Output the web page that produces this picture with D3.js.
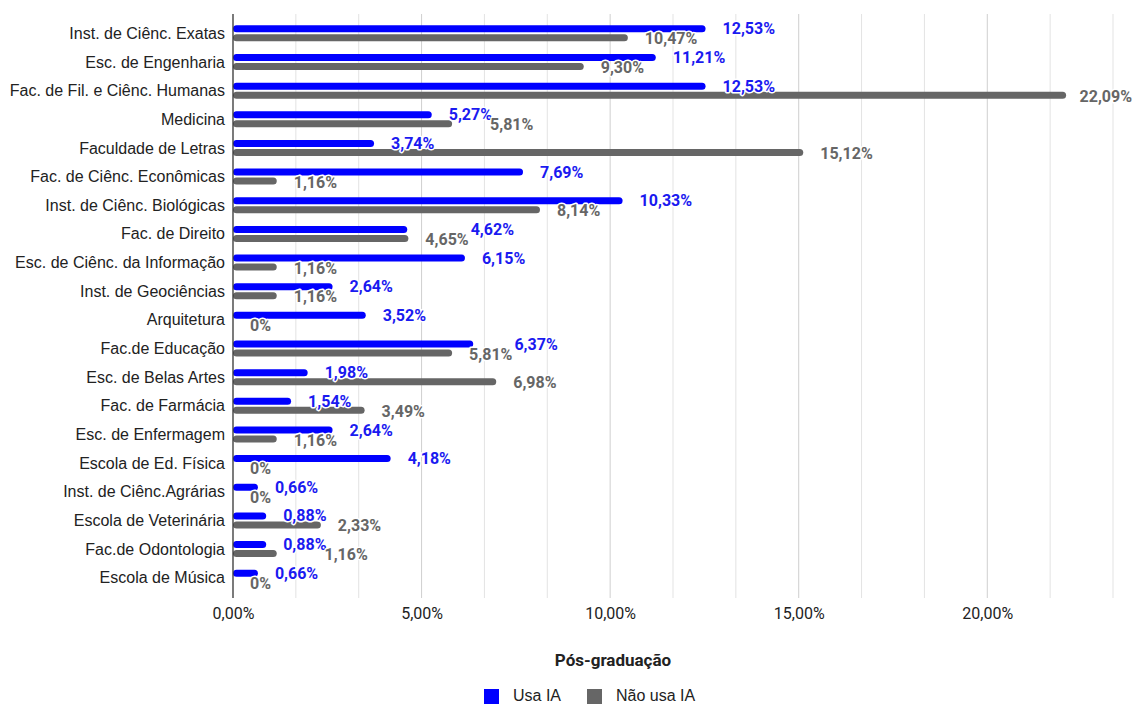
<!DOCTYPE html>
<html><head><meta charset="utf-8">
<script src="https://cdn.jsdelivr.net/npm/d3@7"></script>
<style>body{margin:0;background:#fff;}</style>
</head><body>
<svg id="c" width="1133" height="704"></svg>
<script>
const categories = ["Inst. de Ciênc. Exatas","Esc. de Engenharia","Fac. de Fil. e Ciênc. Humanas","Medicina","Faculdade de Letras","Fac. de Ciênc. Econômicas","Inst. de Ciênc. Biológicas","Fac. de Direito","Esc. de Ciênc. da Informação","Inst. de Geociências","Arquitetura","Fac.de Educação","Esc. de Belas Artes","Fac. de Farmácia","Esc. de Enfermagem","Escola de Ed. Física","Inst. de Ciênc.Agrárias","Escola de Veterinária","Fac.de Odontologia","Escola de Música"];
const usaIA = [12.53,11.21,12.53,5.27,3.74,7.69,10.33,4.62,6.15,2.64,3.52,6.37,1.98,1.54,2.64,4.18,0.66,0.88,0.88,0.66];
const naoUsaIA = [10.47,9.30,22.09,5.81,15.12,1.16,8.14,4.65,1.16,1.16,0,5.81,6.98,3.49,1.16,0,0,2.33,1.16,0];
const seriesNames = ["Usa IA","Não usa IA"];
const tickValues = [0,5,10,15,20];
const axisTitle = "Pós-graduação";

const BLUE = "#0000ff", BLUE_T = "#1a1af0", GRAY = "#666666";
const W = 1133;
const svg = d3.select("#c");
const x = d3.scaleLinear().domain([0, 70/3]).range([233, 1113]);
const y = d3.scaleBand().domain(categories).range([19, 592]);
const fmt = v => d3.format(".2f")(v).replace(".", ",") + "%";
const fmtLbl = v => v === 0 ? "0%" : d3.format(".2f")(v).replace(".", ",") + "%";

// gridlines
const gridVals = d3.range(0, 15).map(i => i * 5 / 3);
svg.append("g").selectAll("line").data(gridVals.slice(1)).join("line")
  .attr("x1", d => x(d)).attr("x2", d => x(d))
  .attr("y1", 14).attr("y2", 598)
  .attr("stroke", (d, i) => ((i + 1) % 3 === 0) ? "#cfcfcf" : "#e3e3e3")
  .attr("stroke-width", 1);

// axis ticks labels
const axis = d3.axisBottom(x).tickValues(tickValues).tickFormat(fmt).tickSize(0).tickPadding(0);
const ag = svg.append("g").attr("transform", "translate(0,613)").call(axis);
ag.select(".domain").remove();
ag.selectAll("text").attr("font-family", "Roboto, sans-serif").attr("font-size", 16)
  .attr("fill", "#222").attr("dy", "0.35em").attr("y", 0);

// category labels
const yAxis = d3.axisLeft(y).tickSize(0).tickPadding(8);
const yg = svg.append("g").attr("transform", "translate(233,0)").call(yAxis);
yg.select(".domain").remove();
yg.selectAll("text").attr("font-family", "'Liberation Sans', Arial, sans-serif").attr("font-size", 16)
  .attr("fill", "#222").attr("dy", "0.35em");

const bh = 7, off = 4.5;
const rows = categories.map((c, i) => ({c, a: usaIA[i], b: naoUsaIA[i]}));
const bars = svg.append("g");
bars.selectAll("rect.a").data(rows).join("rect")
  .attr("x", x(0)).attr("y", d => y(d.c) + y.bandwidth()/2 - off - bh/2)
  .attr("width", d => Math.max(0, x(d.a) - x(0))).attr("height", bh)
  .attr("rx", bh/2).attr("fill", BLUE);
bars.selectAll("rect.b").data(rows).join("rect")
  .attr("x", x(0)).attr("y", d => y(d.c) + y.bandwidth()/2 + off - bh/2)
  .attr("width", d => Math.max(0, x(d.b) - x(0))).attr("height", bh)
  .attr("rx", bh/2).attr("fill", GRAY);

// axis line
svg.append("line").attr("x1", x(0)).attr("x2", x(0)).attr("y1", 14).attr("y2", 598)
  .attr("stroke", "#333").attr("stroke-width", 1.3);

// data labels with simple collision avoidance
const lg = svg.append("g").attr("font-family", "Roboto, sans-serif").attr("font-size", 16).attr("font-weight", "bold");
const gap = 17;
rows.forEach(d => {
  const cy = y(d.c) + y.bandwidth()/2;
  const ta = lg.append("text").text(fmtLbl(d.a)).attr("fill", BLUE_T)
    .attr("y", cy - off).attr("dy", "0.35em");
  const tb = lg.append("text").text(fmtLbl(d.b)).attr("fill", GRAY)
    .attr("y", cy + off + 1).attr("dy", "0.35em");
  const wa = ta.node().getComputedTextLength(), wb = tb.node().getComputedTextLength();
  let xa = x(d.a) + gap, xb = x(d.b) + gap;
  if (xa < xb + wb && xb < xa + wa) {
    if (xa >= xb - 3) { xa = xb + wb + 2; } else { xb = xa + wa - 2; }
  }
  xa = Math.min(xa, W - wa - 1); xb = Math.min(xb, W - wb - 1);
  ta.attr("x", xa); tb.attr("x", xb);
});
lg.selectAll("text").attr("stroke", "#fff").attr("stroke-width", 3).attr("paint-order", "stroke").attr("stroke-linejoin", "round");

// axis title
svg.append("text").attr("x", 613).attr("y", 660).attr("dy", "0.35em").attr("text-anchor", "middle")
  .attr("font-family", "Roboto, sans-serif").attr("font-size", 17).attr("font-weight", "bold").attr("fill", "#222")
  .text(axisTitle);

// legend
const leg = svg.append("g");
const legX = [484, 587], legC = [BLUE, GRAY];
seriesNames.forEach((n, i) => {
  leg.append("rect").attr("x", legX[i]).attr("y", 689).attr("width", 15).attr("height", 15).attr("fill", legC[i]);
  leg.append("text").attr("x", legX[i] + 29).attr("y", 695.5).attr("dy", "0.35em")
    .attr("font-family", "'Liberation Sans', Arial, sans-serif").attr("font-size", 16).attr("fill", "#222").text(n);
});
</script>
</body></html>
